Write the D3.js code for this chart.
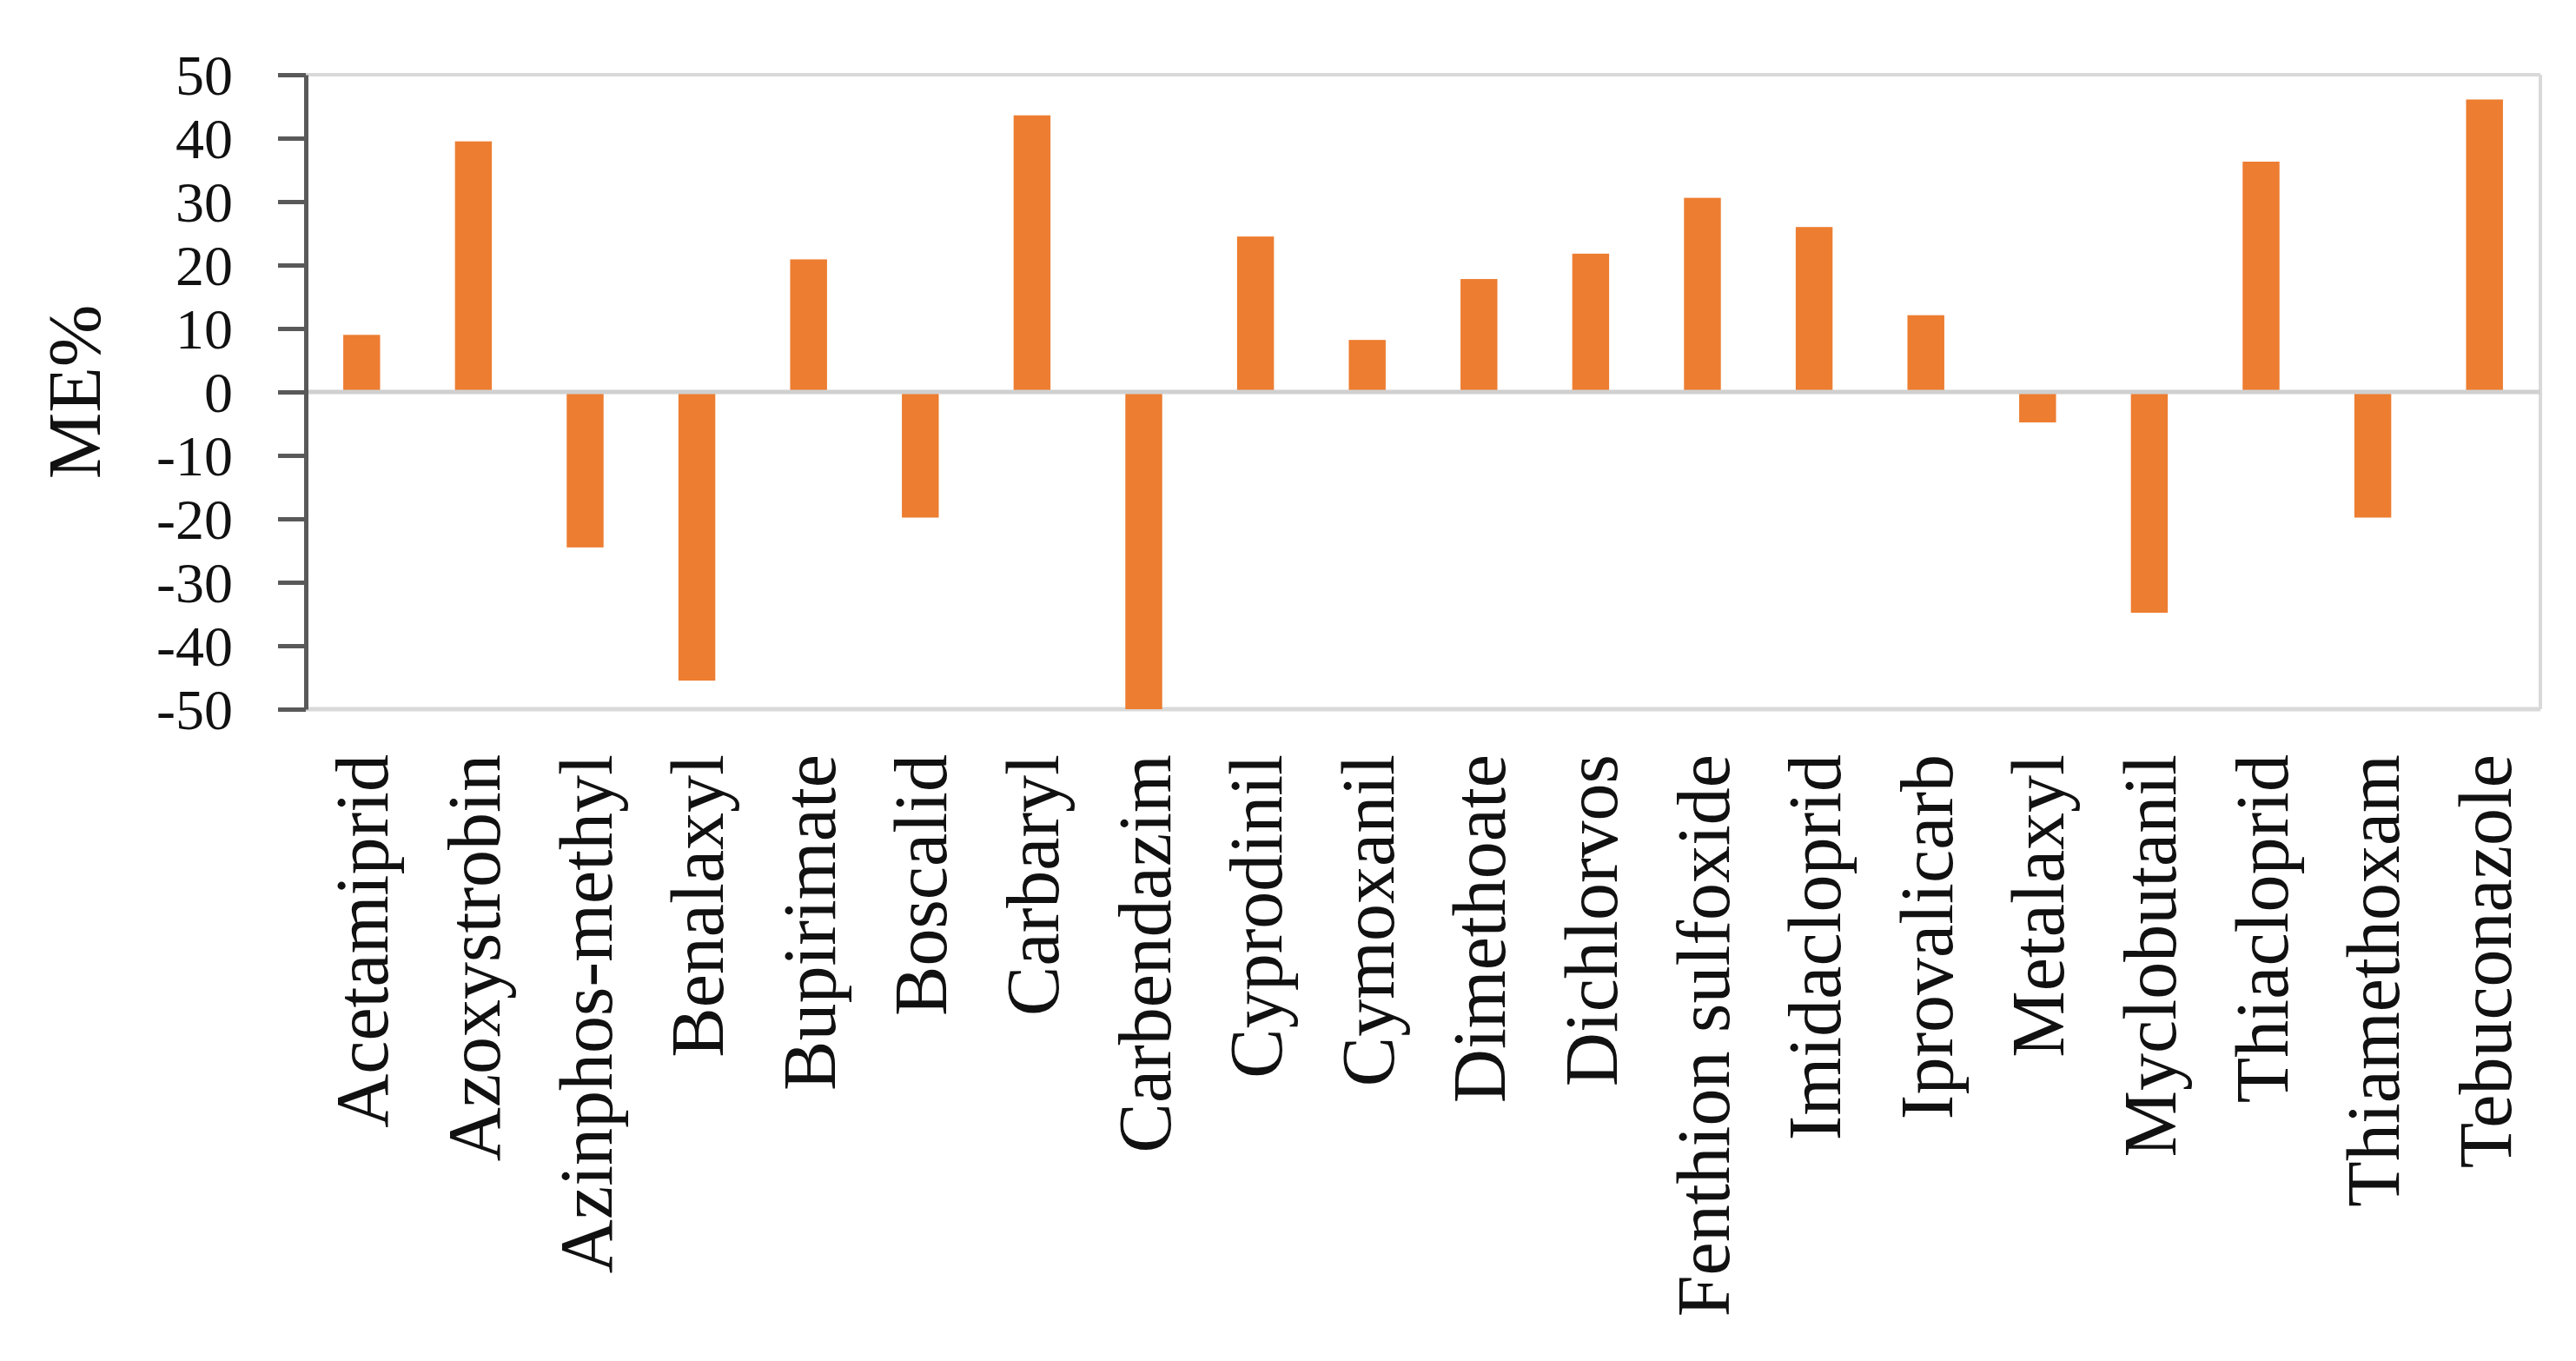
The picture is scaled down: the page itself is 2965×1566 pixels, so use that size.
<!DOCTYPE html>
<html><head><meta charset="utf-8">
<script src="https://cdn.jsdelivr.net/npm/d3@7/dist/d3.min.js"></script>
<style>body{margin:0;background:#fff}svg{display:block}</style>
</head><body>
<svg id="chart" width="2965" height="1566"></svg>
<script>
const categories = ["Acetamiprid","Azoxystrobin","Azinphos-methyl","Benalaxyl","Bupirimate","Boscalid","Carbaryl","Carbendazim","Cyprodinil","Cymoxanil","Dimethoate","Dichlorvos","Fenthion sulfoxide","Imidacloprid","Iprovalicarb","Metalaxyl","Myclobutanil","Thiacloprid","Thiamethoxam","Tebuconazole"];
const values = [9.0, 39.5, -24.5, -45.5, 20.9, -19.8, 43.6, -50, 24.5, 8.2, 17.8, 21.8, 30.6, 26.0, 12.1, -4.8, -34.8, 36.3, -19.8, 46.1];
const yTicks = [50, 40, 30, 20, 10, 0, -10, -20, -30, -40, -50];
const yLabel = "ME%";

const svg = d3.select("#chart");
const W = 2965, H = 1566;
const plot = {left: 352, right: 2924, top: 86, bottom: 816};
const font = "'Liberation Serif', 'Times New Roman', serif";

svg.append("rect").attr("width", W).attr("height", H).attr("fill", "#fff");

const x = d3.scaleBand().domain(categories).range([plot.left, plot.right])
  .paddingInner(0.67).paddingOuter(0.335);
const y = d3.scaleLinear().domain([-50, 50]).range([plot.bottom, plot.top]);

// plot-area border (top, right, bottom)
const g = svg.append("g");
g.append("line").attr("x1", plot.left).attr("x2", plot.right).attr("y1", y(50)).attr("y2", y(50))
  .attr("stroke", "#d9d9d9").attr("stroke-width", 4);
g.append("line").attr("x1", plot.right).attr("x2", plot.right).attr("y1", y(50)).attr("y2", y(-50))
  .attr("stroke", "#d9d9d9").attr("stroke-width", 4);
g.append("line").attr("x1", plot.left).attr("x2", plot.right).attr("y1", y(-50)).attr("y2", y(-50))
  .attr("stroke", "#d9d9d9").attr("stroke-width", 5);

// bars
svg.append("g").selectAll("rect").data(values).join("rect")
  .attr("x", (d, i) => x(categories[i]))
  .attr("width", x.bandwidth())
  .attr("y", d => y(Math.max(0, d)))
  .attr("height", d => Math.abs(y(d) - y(0)))
  .attr("fill", "#ED7D31");

// zero line
svg.append("line").attr("x1", plot.left).attr("x2", plot.right).attr("y1", y(0)).attr("y2", y(0))
  .attr("stroke", "#d0d0d0").attr("stroke-width", 5);

// y axis
const yAxis = svg.append("g").attr("transform", `translate(${plot.left},0)`)
  .call(d3.axisLeft(y).tickValues(yTicks).tickSize(32).tickPadding(52).tickSizeOuter(0).tickFormat(d => String(d)));
yAxis.select(".domain").attr("stroke", "#595959").attr("stroke-width", 5);
yAxis.selectAll(".tick line").attr("stroke", "#595959").attr("stroke-width", 5);
yAxis.selectAll(".tick text").attr("font-family", font).attr("font-size", 66).attr("fill", "#111").attr("dy", "0.34em");

// x labels
svg.append("g").selectAll("text").data(categories).join("text")
  .attr("transform", d => `translate(${x(d) + x.bandwidth() / 2},868) rotate(-90)`)
  .attr("text-anchor", "end")
  .attr("dy", "0.35em")
  .attr("font-family", font).attr("font-size", 86).attr("fill", "#111")
  .text(d => d);

// y label
svg.append("text")
  .attr("transform", `translate(85,${(plot.top + plot.bottom) / 2}) rotate(-90)`)
  .attr("text-anchor", "middle").attr("dy", "0.35em")
  .attr("font-family", font).attr("font-size", 86).attr("fill", "#111")
  .text(yLabel);
</script>
</body></html>
